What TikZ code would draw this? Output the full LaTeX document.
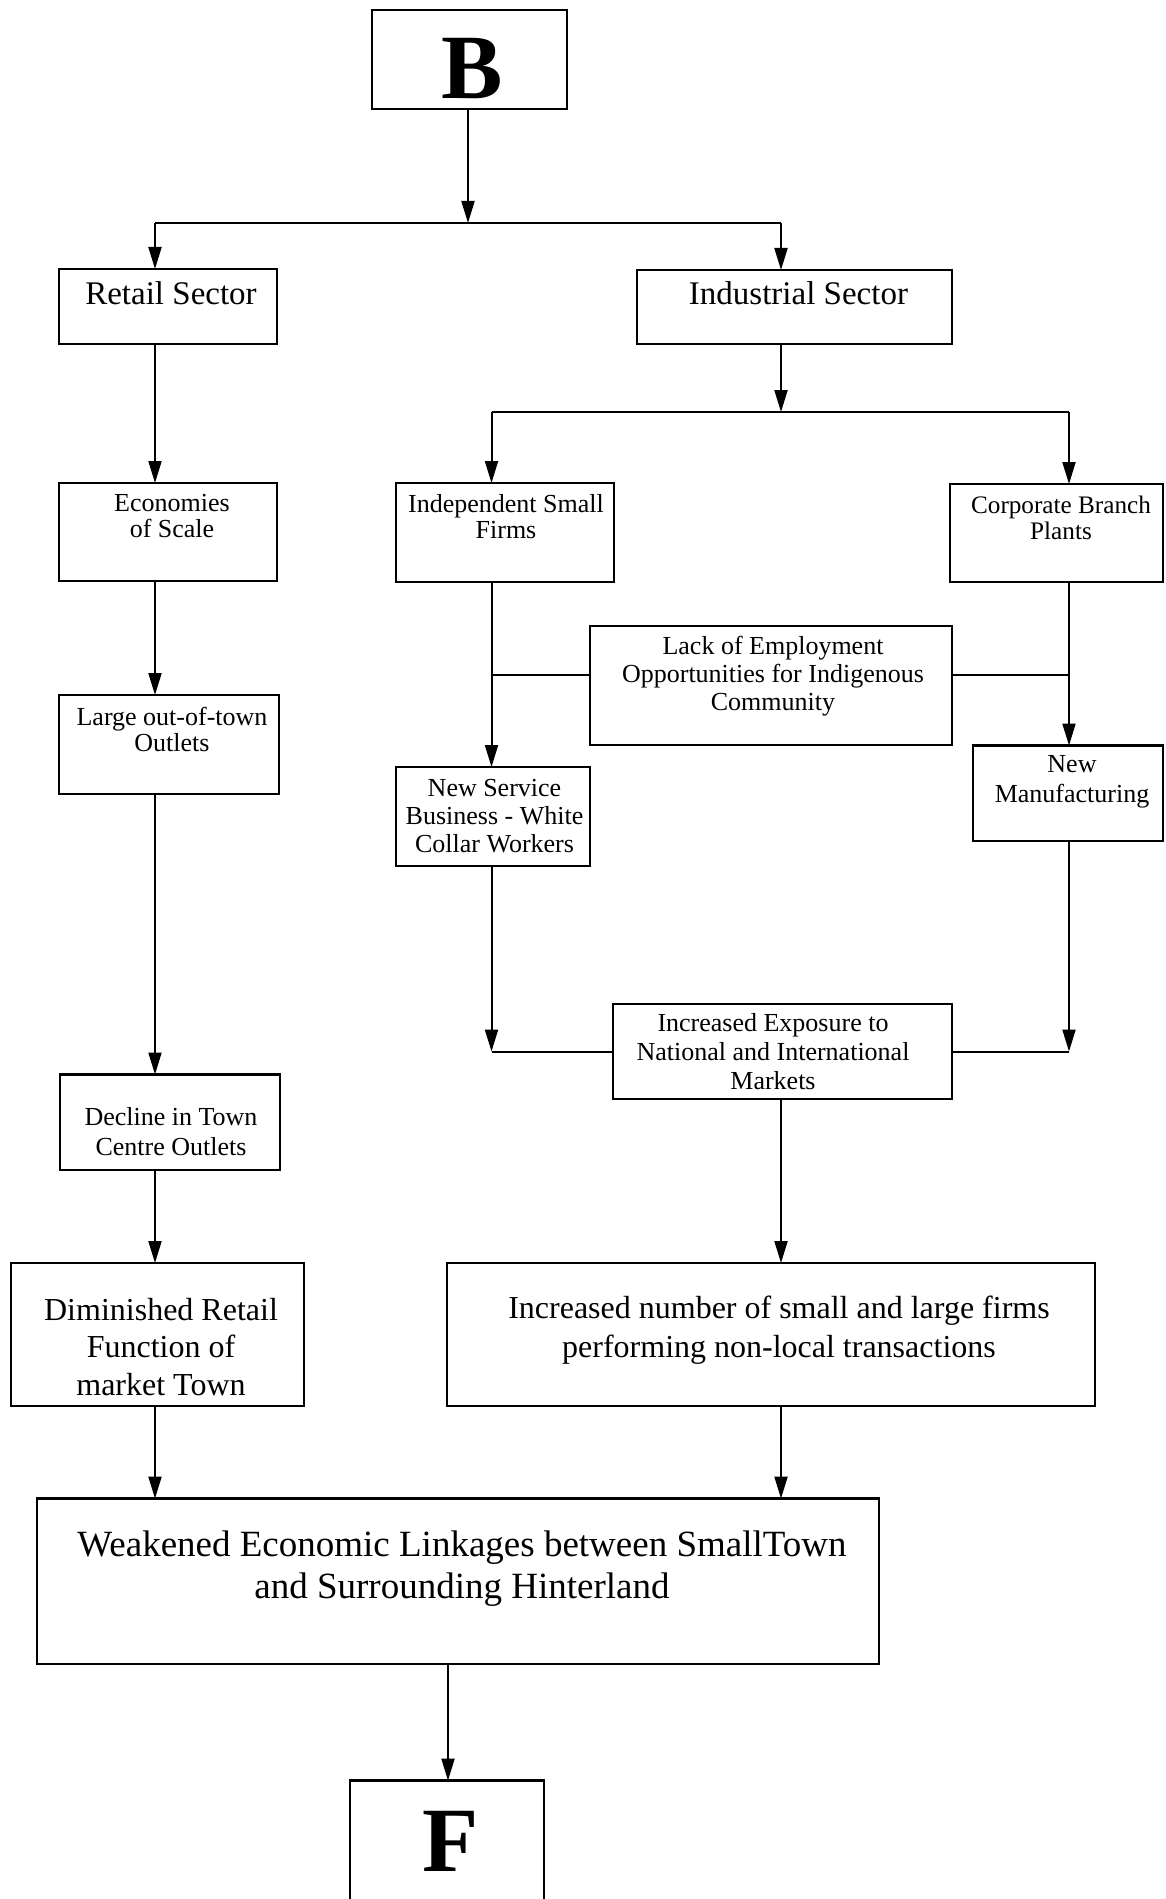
\documentclass[tikz,border=0pt]{standalone}
\usepackage{fontspec}
\setmainfont{Liberation Serif}
\usetikzlibrary{arrows.meta}
\newcommand\stk[1]{\vtop{\halign{\hfil##\hfil\cr#1\crcr}}}
\tikzset{
  box/.style={draw, line width=1.4pt, inner sep=0pt, outer sep=0pt},
  txt/.style={anchor=base, inner sep=0pt, outer sep=0pt},
  ln/.style={line width=1pt},
  arr/.style={line width=1pt, -{Triangle[length=11pt,width=6.5pt]}},
  fsm/.style={font=\fontsize{13}{#1}\selectfont},
  fmd/.style={font=\fontsize{16}{#1}\selectfont},
}
\begin{document}
\begin{tikzpicture}[x=0.5pt,y=-0.5pt]
\useasboundingbox (0,0) rectangle (1166,1899);
\clip (0,0) rectangle (1166,1899);
\fill[white] (0,0) rectangle (1166,1899);
% boxes
\node[box, minimum width=97.5pt, minimum height=49.5pt] (b) at (469.5,59.5) {};
\node[box, minimum width=109pt, minimum height=37.5pt] (rs) at (168,306.5) {};
\node[box, minimum width=157.5pt, minimum height=37pt] (is) at (794.5,307) {};
\node[box, minimum width=109pt, minimum height=49pt] (ec) at (168,532) {};
\node[box, minimum width=109pt, minimum height=49.5pt] (isf) at (505,532.5) {};
\node[box, minimum width=106.5pt, minimum height=49pt] (cbp) at (1056.5,533) {};
\node[box, minimum width=181pt, minimum height=59.5pt] (lack) at (771,685.5) {};
\node[box, minimum width=110pt, minimum height=49.5pt] (lg) at (169,744.5) {};
\node[box, minimum width=97pt, minimum height=49.5pt] (nsb) at (493,816.5) {};
\node[box, minimum width=95pt, minimum height=47.75pt] (nm) at (1068,793.25) {};
\node[box, minimum width=169.5pt, minimum height=47.5pt] (ex) at (782.5,1051.5) {};
\node[box, minimum width=110pt, minimum height=47.75pt] (dc) at (170,1122.25) {};
\node[box, minimum width=146.5pt, minimum height=71.5pt] (dm) at (157.5,1334.5) {};
\node[box, minimum width=324pt, minimum height=71.5pt] (inc) at (771,1334.5) {};
\node[box, minimum width=421pt, minimum height=82.7pt] (wk) at (458,1581.3) {};
\node[box, minimum width=97pt, minimum height=79.7pt] (f) at (447,1860.3) {};
% texts
\node[txt, font=\fontsize{46}{48}\selectfont\bfseries] (bt) at (472,99) {B};
\node[txt, font=\fontsize{16.5}{18}\selectfont] (rst) at (171,305) {Retail Sector};
\node[txt, font=\fontsize{16.5}{18}\selectfont] (ist) at (798.5,305) {Industrial Sector};
\node[txt, fsm=13pt] (ect) at (172,511.7) {\stk{Economies\cr of Scale}};
\node[txt, fsm=13pt] (isft) at (506,512) {\stk{Independent Small\cr Firms}};
\node[txt, font=\fontsize{12.6}{13pt}\selectfont] (cbpt) at (1061,513) {\stk{Corporate Branch\cr Plants}};
\node[txt, fsm=14pt] (lackt) at (773,654.5) {\stk{Lack of Employment\cr Opportunities for Indigenous\cr Community}};
\node[txt, fsm=13.4pt] (lgt) at (172,725) {\stk{Large out-of-town\cr Outlets}};
\node[txt, fsm=14pt] (nsbt) at (494.5,796) {\stk{New Service\cr Business - White\cr Collar Workers}};
\node[txt, fsm=15pt] (nmt) at (1072,772) {\stk{New\cr Manufacturing}};
\node[txt, fsm=14.5pt] (ext) at (773,1031) {\stk{Increased Exposure to\cr National and International\cr Markets}};
\node[txt, fsm=14.75pt] (dct) at (171,1125.5) {\stk{Decline in Town\cr Centre Outlets}};
\node[txt, fmd=18.75pt] (dmt) at (161,1320) {\stk{Diminished Retail\cr Function of\cr market Town}};
\node[txt, fmd=19.5pt] (inct) at (779,1318) {\stk{Increased number of small and large firms\cr performing non-local transactions}};
\node[txt, font=\fontsize{18.5}{21pt}\selectfont] (wkt) at (462,1556) {\stk{Weakened Economic Linkages between SmallTown\cr and Surrounding Hinterland}};
\node[txt, font=\fontsize{46}{48}\selectfont\bfseries] (ft) at (451,1871) {F};
% junctions
\coordinate (j1) at (468,223);
\coordinate (j1L) at (155,223);
\coordinate (j1R) at (781,223);
\coordinate (j2) at (781,412);
\coordinate (j2L) at (491.5,412);
\coordinate (j2R) at (1069,412);
\coordinate (j3L) at (491.5,674.6);
\coordinate (j3R) at (1069,674.6);
\coordinate (j4L) at (491.5,1051.5);
\coordinate (j4R) at (1069,1051.5);
\coordinate (cF) at (448,1700);
% connectors
\draw[arr] (b.south -| j1) -- (j1);
\draw[ln] (j1L) -- (j1R);
\draw[arr] (j1L) -- (rs.north -| j1L);
\draw[arr] (j1R) -- (is.north -| j1R);
\draw[arr] (rs.south -| j1L) -- (ec.north -| j1L);
\draw[arr] (ec.south -| j1L) -- (lg.north -| j1L);
\draw[arr] (lg.south -| j1L) -- (dc.north -| j1L);
\draw[arr] (dc.south -| j1L) -- (dm.north -| j1L);
\draw[arr] (dm.south -| j1L) -- (wk.north -| j1L);
\draw[arr] (is.south -| j2) -- (j2);
\draw[ln] (j2L) -- (j2R);
\draw[arr] (j2L) -- (isf.north -| j2L);
\draw[arr] (j2R) -- (cbp.north -| j2R);
\draw[arr] (isf.south -| j2L) -- (nsb.north -| j2L);
\draw[arr] (cbp.south -| j2R) -- (nm.north -| j2R);
\draw[ln] (j3L) -- (lack.west |- j3L);
\draw[ln] (lack.east |- j3R) -- (j3R);
\draw[arr] (nsb.south -| j4L) -- (j4L);
\draw[ln] (j4L) -- (ex.west);
\draw[arr] (nm.south -| j4R) -- (j4R);
\draw[ln] (ex.east) -- (j4R);
\draw[arr] (ex.south -| j2) -- (inc.north -| j2);
\draw[arr] (inc.south -| j2) -- (wk.north -| j2);
\draw[arr] (wk.south -| cF) -- (f.north -| cF);
\end{tikzpicture}
\end{document}
